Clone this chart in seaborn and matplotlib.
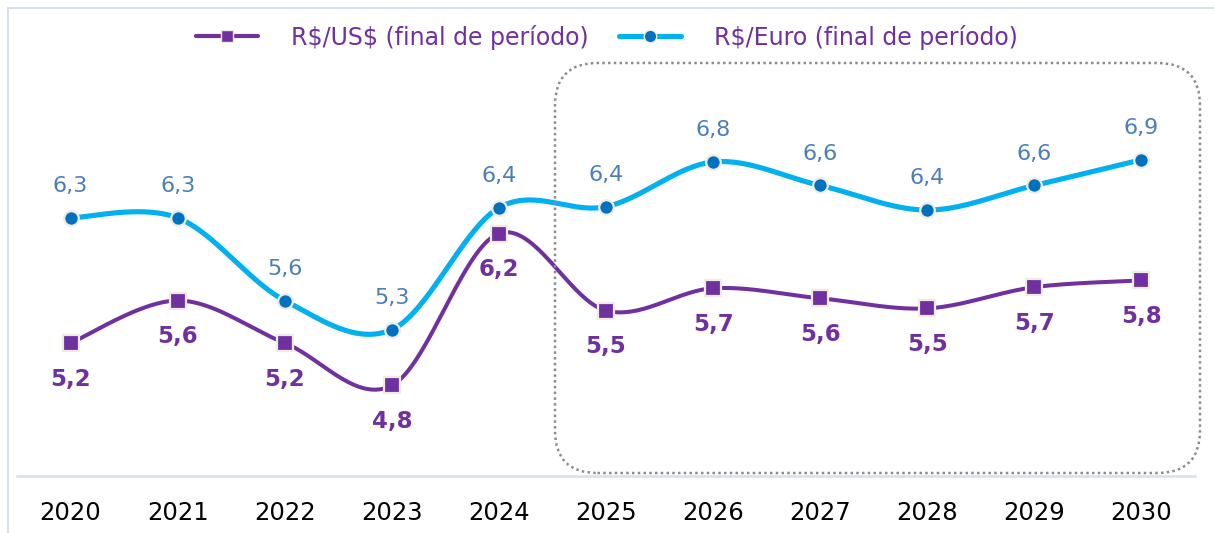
import numpy as np
import pandas as pd
import seaborn as sns
import matplotlib
matplotlib.use('Agg')
import matplotlib.pyplot as plt
from matplotlib.patches import FancyBboxPatch, Rectangle
from matplotlib.lines import Line2D

# Dados
anos = ['2020', '2021', '2022', '2023', '2024', '2025', '2026', '2027', '2028', '2029', '2030']
dolar = [5.22, 5.60, 5.22, 4.84, 6.20, 5.51, 5.71, 5.62, 5.53, 5.72, 5.78]
euro = [6.34, 6.34, 5.60, 5.34, 6.43, 6.44, 6.84, 6.63, 6.41, 6.63, 6.86]
nome_dolar = 'R$/US$ (final de período)'
nome_euro = 'R$/Euro (final de período)'

roxo = '#7030A0'
azul_linha = '#00B0F0'
azul_ponto = '#0070C0'
azul_texto = '#4A7EBB'
borda_ponto = '#EEECE1'


def suaviza(y, n=40):
    # curva suavizada tipo Excel (Bezier / Catmull-Rom)
    x = np.arange(len(y), dtype=float)
    y = np.asarray(y, dtype=float)
    px = np.r_[x[0], x, x[-1]]
    py = np.r_[y[0], y, y[-1]]
    t = np.linspace(0, 1, n)
    xs, ys = [], []
    for i in range(len(y) - 1):
        for p, out in ((px, xs), (py, ys)):
            p0, p1, p2, p3 = p[i:i + 4]
            c1 = p1 + (p2 - p0) / 6
            c2 = p2 - (p3 - p1) / 6
            out.extend((1 - t) ** 3 * p1 + 3 * (1 - t) ** 2 * t * c1 + 3 * (1 - t) * t ** 2 * c2 + t ** 3 * p2)
    return np.array(xs), np.array(ys)


sns.set_style('white')
plt.rcParams['font.family'] = ['DejaVu Sans']

fig = plt.figure(figsize=(12.14, 5.33), dpi=100)
ax = fig.add_axes([17 / 1214, 57 / 533, 1178 / 1214, 447 / 533])

for serie, cor, lw in ((euro, azul_linha, 3.7), (dolar, roxo, 2.9)):
    sx, sy = suaviza(serie)
    curva = pd.DataFrame({'x': sx, 'y': sy})
    sns.lineplot(data=curva, x='x', y='y', sort=False, color=cor, linewidth=lw, ax=ax, zorder=2)

pontos = pd.DataFrame({'x': range(len(anos)), 'euro': euro, 'dolar': dolar})
sns.scatterplot(data=pontos, x='x', y='euro', marker='o', s=110, color=azul_ponto,
                edgecolor=borda_ponto, linewidth=1.6, ax=ax, zorder=4, clip_on=False)
sns.scatterplot(data=pontos, x='x', y='dolar', marker='s', s=120, color=roxo,
                edgecolor=borda_ponto, linewidth=1.6, ax=ax, zorder=4, clip_on=False)

for i, (e, d) in enumerate(zip(euro, dolar)):
    ax.annotate(f'{e:.1f}'.replace('.', ','), (i, e), xytext=(0, 23), textcoords='offset points',
                ha='center', va='center', fontsize=16, color=azul_texto)
    ax.annotate(f'{d:.1f}'.replace('.', ','), (i, d), xytext=(0, -26), textcoords='offset points',
                ha='center', va='center', fontsize=16.5, fontweight='bold', color=roxo)

ax.set_xlim(-0.5, len(anos) - 0.5)
ax.set_ylim(4.03, 8.03)
ax.set_xticks(range(len(anos)))
ax.set_xticklabels(anos, fontsize=17.5, color='black')
ax.set_yticks([])
ax.set_xlabel('')
ax.set_ylabel('')
ax.tick_params(axis='x', length=0, pad=18)
for lado in ('top', 'left', 'right'):
    ax.spines[lado].set_visible(False)
ax.spines['bottom'].set_color('#D5E0F0')
ax.spines['bottom'].set_linewidth(1.8)

# caixa pontilhada das projeções
caixa = FancyBboxPatch((555 / 1214, 60 / 533), 645 / 1214, 410 / 533,
                       boxstyle='round,pad=0,rounding_size=0.035',
                       mutation_aspect=1214 / 533, transform=fig.transFigure,
                       fill=False, edgecolor='#8C8C8C', linestyle=(0, (1, 1.3)), linewidth=1.8)
fig.patches.append(caixa)

# borda do gráfico
fig.patches.append(Rectangle((8 / 1214, -0.1), 1.2, 1 - 8 / 533 + 0.1, transform=fig.transFigure,
                             fill=False, edgecolor='#D5E0F0', linewidth=1.5))

legenda = [
    Line2D([], [], color=roxo, linewidth=3, marker='s', markersize=9,
           markerfacecolor=roxo, markeredgecolor=borda_ponto, label=nome_dolar.replace('$', r'\$')),
    Line2D([], [], color=azul_linha, linewidth=3.7, marker='o', markersize=9,
           markerfacecolor=azul_ponto, markeredgecolor=borda_ponto, label=nome_euro.replace('$', r'\$')),
]
fig.legend(handles=legenda, loc='center', bbox_to_anchor=(0.5, 1 - 37 / 533), ncol=2,
           frameon=False, fontsize=17, labelcolor=roxo, handlelength=2.6,
           handletextpad=1.4, columnspacing=1.3)

fig.savefig('out.png', dpi=100)
